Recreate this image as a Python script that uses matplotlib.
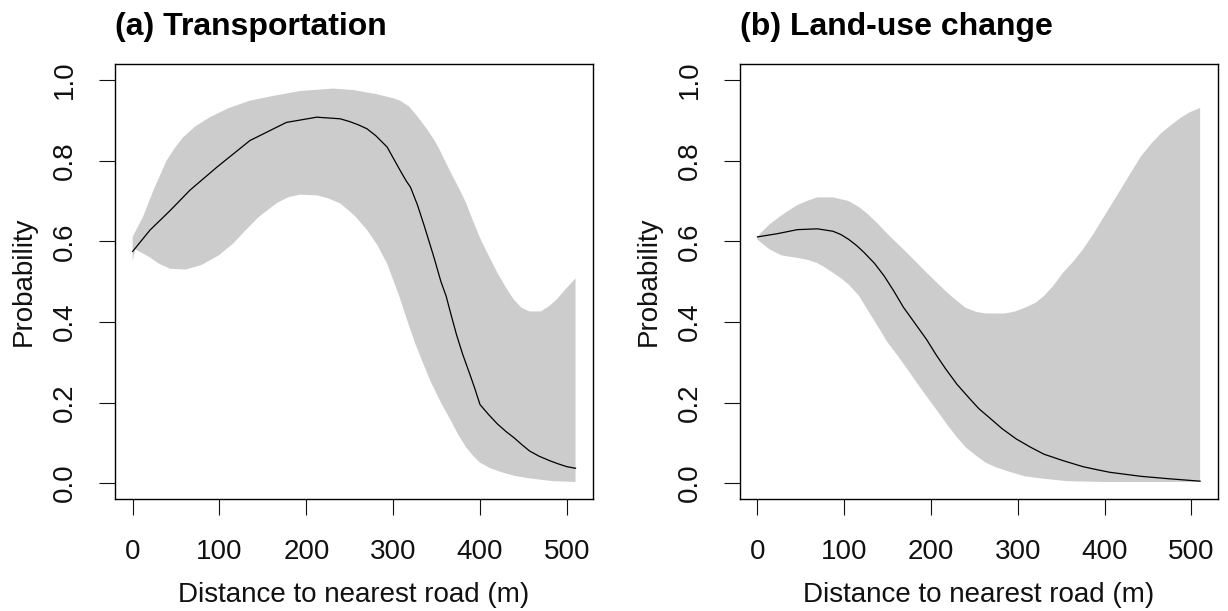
import numpy as np
import matplotlib.pyplot as plt

plt.rcParams['font.family'] = ['Liberation Sans', 'DejaVu Sans']

# (a) Transportation: fitted probability and confidence band
a_x = [0, 12, 24, 39, 48, 58, 72, 89, 110, 135, 160, 193, 231, 255, 281, 300,
       308, 318, 329, 340, 348, 354, 366, 375, 384, 393, 402, 411, 420, 430,
       439, 448, 457, 470, 480, 488, 498, 510]
a_upper = [0.611, 0.661, 0.727, 0.800, 0.830, 0.858, 0.885, 0.908, 0.930, 0.949,
           0.960, 0.973, 0.979, 0.975, 0.965, 0.955, 0.949, 0.935, 0.907, 0.875,
           0.849, 0.825, 0.772, 0.735, 0.695, 0.645, 0.599, 0.560, 0.522, 0.485,
           0.455, 0.435, 0.426, 0.426, 0.440, 0.455, 0.480, 0.508]

a_lx = [0, 3, 10, 20, 30, 43, 61, 79, 99, 116, 129, 145, 166, 180, 193, 212,
        225, 239, 255, 270, 282, 293, 307, 316, 325, 334, 343, 355, 366, 375,
        384, 392, 400, 412, 425, 440, 457, 484, 510]
a_lower = [0.551, 0.580, 0.572, 0.560, 0.545, 0.532, 0.530, 0.541, 0.565, 0.595,
           0.625, 0.660, 0.695, 0.710, 0.716, 0.714, 0.707, 0.694, 0.665, 0.628,
           0.590, 0.545, 0.464, 0.405, 0.349, 0.300, 0.253, 0.200, 0.157, 0.120,
           0.089, 0.068, 0.051, 0.037, 0.027, 0.018, 0.012, 0.005, 0.003]

a_mx = [0, 20, 43, 66, 97, 135, 177, 212, 239, 250, 260, 270, 280, 293, 308,
        315, 320, 328, 336, 347, 355, 361, 367, 373, 380, 388, 394, 400, 410,
        420, 430, 439, 448, 457, 468, 480, 490, 500, 510]
a_mean = [0.575, 0.628, 0.676, 0.727, 0.784, 0.850, 0.895, 0.908, 0.904, 0.897,
          0.889, 0.879, 0.862, 0.834, 0.776, 0.750, 0.734, 0.690, 0.637, 0.560,
          0.500, 0.464, 0.415, 0.368, 0.320, 0.272, 0.235, 0.195, 0.170, 0.147,
          0.128, 0.113, 0.096, 0.080, 0.067, 0.056, 0.048, 0.041, 0.037]

# (b) Land-use change
b_x = [0, 5, 14, 23, 35, 46, 58, 69, 87, 105, 117, 128, 139, 150, 173, 195,
       218, 230, 240, 252, 263, 285, 297, 308, 320, 330, 341, 352, 364, 375,
       387, 398, 409, 420, 431, 442, 454, 465, 477, 488, 498, 510]
b_upper = [0.611, 0.623, 0.642, 0.657, 0.675, 0.690, 0.701, 0.709, 0.709, 0.700,
           0.685, 0.666, 0.643, 0.618, 0.570, 0.522, 0.474, 0.452, 0.435, 0.425,
           0.421, 0.421, 0.426, 0.435, 0.447, 0.464, 0.490, 0.522, 0.550, 0.580,
           0.618, 0.657, 0.695, 0.734, 0.773, 0.811, 0.843, 0.868, 0.889, 0.907,
           0.920, 0.931]

b_lx = [0, 7, 14, 28, 46, 58, 69, 78, 87, 96, 105, 117, 128, 139, 150, 162,
        173, 184, 195, 207, 218, 229, 240, 252, 263, 274, 285, 297, 308, 330,
        357, 398, 510]
b_lower = [0.604, 0.592, 0.580, 0.565, 0.559, 0.554, 0.546, 0.535, 0.522, 0.509,
           0.493, 0.465, 0.426, 0.388, 0.349, 0.315, 0.282, 0.248, 0.215, 0.180,
           0.147, 0.116, 0.089, 0.068, 0.051, 0.040, 0.032, 0.024, 0.017, 0.011,
           0.005, 0.003, 0.003]

b_mx = [0, 23, 46, 69, 87, 96, 105, 114, 123, 135, 146, 157, 168, 181, 195, 206,
        217, 230, 244, 255, 267, 282, 298, 314, 330, 352, 375, 390, 406, 424,
        442, 474, 510]
b_mean = [0.611, 0.619, 0.629, 0.631, 0.625, 0.617, 0.605, 0.590, 0.572, 0.545,
          0.514, 0.477, 0.437, 0.398, 0.356, 0.318, 0.283, 0.245, 0.211, 0.185,
          0.163, 0.135, 0.110, 0.090, 0.072, 0.056, 0.041, 0.034, 0.027, 0.022,
          0.017, 0.011, 0.005]

titles = ['(a) Transportation', '(b) Land-use change']
x_ticks = [0, 100, 200, 300, 400, 500]
y_ticks = [0.0, 0.2, 0.4, 0.6, 0.8, 1.0]

fig = plt.figure(figsize=(12.28, 6.11), dpi=100)
ax_a = fig.add_axes([0.0936, 0.1828, 0.3895, 0.7125])
ax_b = fig.add_axes([0.6024, 0.1828, 0.3893, 0.7125])

panels = [
    (ax_a, a_x, a_upper, a_lx, a_lower, a_mx, a_mean),
    (ax_b, b_x, b_upper, b_lx, b_lower, b_mx, b_mean),
]

for i, (ax, ux, up, lx, lo, mx, mn) in enumerate(panels):
    # band polygon: upper edge left->right, lower edge right->left
    px = list(ux) + list(lx)[::-1]
    py = list(up) + list(lo)[::-1]
    ax.fill(px, py, color='#cccccc', lw=0)
    ax.plot(mx, mn, color='black', lw=0.9)

    ax.set_xlim(-20.4, 530.4)
    ax.set_ylim(-0.04, 1.04)
    ax.set_xticks(x_ticks)
    ax.set_yticks(y_ticks)
    ax.set_yticklabels(['%.1f' % v for v in y_ticks], rotation=90, va='center')
    ax.tick_params(direction='out', length=11.5, width=0.8, labelsize=20,
                   colors='#111111')
    ax.tick_params(axis='x', pad=17)
    ax.tick_params(axis='y', pad=15)
    for s in ax.spines.values():
        s.set_linewidth(1.0)

    ax.set_xlabel('Distance to nearest road (m)', fontsize=20, labelpad=12,
                  color='#111111')
    ax.set_ylabel('Probability', fontsize=20, labelpad=11, color='#111111')
    ax.set_title(titles[i], loc='left', fontsize=23, fontweight='bold', pad=21)

fig.savefig('out.png', dpi=100)
